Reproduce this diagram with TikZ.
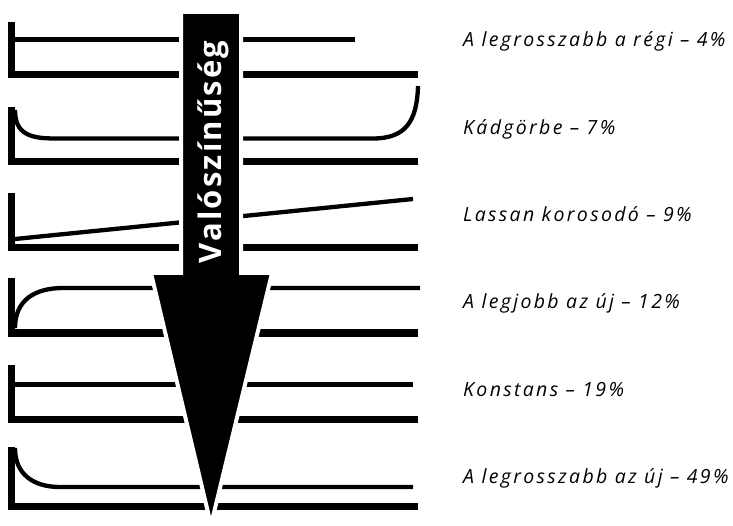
\documentclass[tikz,border=0pt]{standalone}
\usepackage{fontspec}
\setsansfont{Open Sans}
\newfontfamily\labelfont[LetterSpace=12]{Open Sans}
\newfontfamily\arrowfont[LetterSpace=7]{Open Sans}
\usetikzlibrary{positioning}

\tikzset{
  axis/.style={line width=7pt, line join=miter},
  curve/.style={line width=4.3pt},
  arrowbody/.style={fill=black, draw=white, line width=4pt, line join=miter},
  caption/.style={anchor=base west, inner sep=0pt, font=\labelfont\itshape\fontsize{19.5}{22}\selectfont}
}

\begin{document}
\begin{tikzpicture}[x=1pt, y=-1pt]
  \useasboundingbox (0,0) rectangle (733,526);

  % axes (vertical + base line)
  \foreach \t/\b in {22/75, 107/161.5, 193/247.5, 278/333, 365/419.5, 447/506.5} {
    \draw[axis] (11.5,\t) |- (418,\b);
  }

  % curves
  \draw[curve] (15,39.5) -- (355,39.5);
  \draw[curve] (15,110) .. controls (15,134) and (30,138.5) .. (55,138.5)
    -- (373,138.5) .. controls (405,138.5) and (417,122) .. (418,86);
  \draw[curve] (15,239) -- (413,199);
  \draw[curve] (15,328) .. controls (15,300) and (35,288) .. (63,288) -- (420,288);
  \draw[curve] (15,384.5) -- (413,384.5);
  \draw[curve] (15,448) .. controls (15,474) and (33,487) .. (60,487) -- (413,487);

  % arrow
  \filldraw[arrowbody] (181,12) -- (241,12) -- (241,273) -- (272,273)
    -- (211,525) -- (151,273) -- (181,273) -- cycle;
  \node[rotate=90, anchor=base, inner sep=0pt, text=white,
    font=\arrowfont\bfseries\fontsize{31}{34}\selectfont] (prob) at (221,152) {Valószínűség};

  % labels
  \foreach \y/\txt [count=\i] in {47/{A legrosszabb a régi – 4\%},
      134.25/{Kádgörbe – 7\%}, 221.5/{Lassan korosodó – 9\%},
      308.75/{A legjobb az új – 12\%}, 396/{Konstans – 19\%},
      483.25/{A legrosszabb az új – 49\%}} {
    \node[caption] (lab\i) at (463,\y) {\txt};
  }
\end{tikzpicture}
\end{document}
